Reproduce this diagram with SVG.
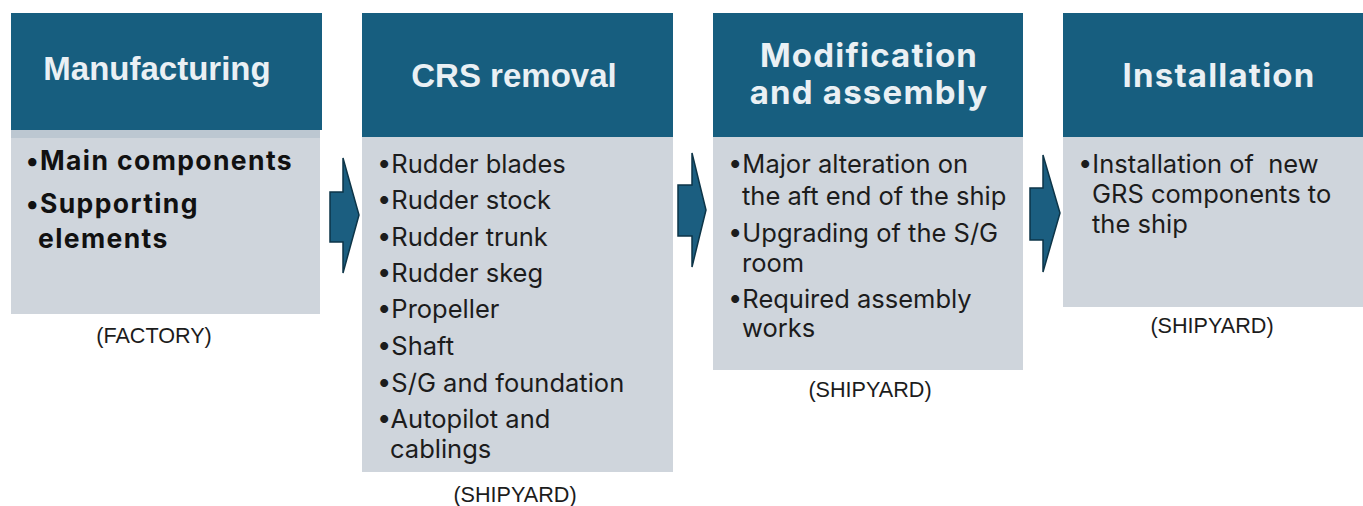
<svg xmlns="http://www.w3.org/2000/svg" width="1363" height="506" viewBox="0 0 1363 506">
  <style>
    .head { fill: #175e7f; }
    .body { fill: #cfd5dc; }
    .title { fill: #eaf0f4; font-family: "Liberation Sans", Arial, sans-serif; font-weight: 700; font-size: 33px; text-anchor: middle; }
    .title2 { fill: #eaf0f4; font-family: Inter, "Liberation Sans", sans-serif; font-weight: 700; font-size: 33px; letter-spacing: 1.2px; text-anchor: middle; }
    .item { fill: #1c1c1c; font-family: Inter, "Liberation Sans", sans-serif; font-size: 25.5px; white-space: pre; }
    .itemb { fill: #111; font-family: Inter, "Liberation Sans", sans-serif; font-size: 26.5px; letter-spacing: 1.4px; font-weight: 700; }
    .place { fill: #1c1c1c; font-family: "Liberation Sans", Arial, sans-serif; font-size: 21.6px; text-anchor: middle; }
    .arrow { fill: #1b5e80; stroke: #0d3548; stroke-width: 1.5; stroke-linejoin: miter; }
  </style>

  <rect width="1363" height="506" fill="#ffffff"/>

  <!-- Stage 1: manufacturing -->
  <g id="manufacturing">
    <rect class="head" x="11" y="13" width="311" height="117"/>
    <rect class="body" x="11" y="130" width="309" height="184"/>
    <rect x="11" y="130" width="309" height="8" fill="#bcc7d1"/>
    <text class="title" x="157" y="80">Manufacturing</text>
    <text class="itemb" x="26" y="170">•Main components</text>
    <text class="itemb" x="26" y="213">•Supporting</text>
    <text class="itemb" x="38" y="248">elements</text>
    <text class="place" x="154" y="343">(FACTORY)</text>
  </g>

  <!-- Stage 2: CRS removal -->
  <g id="crs-removal">
    <rect class="head" x="362" y="13" width="311" height="124"/>
    <rect class="body" x="362" y="137" width="311" height="335"/>
    <text class="title" x="514" y="87">CRS removal</text>
    <text class="item" x="377" y="173">•Rudder blades</text>
    <text class="item" x="377" y="209">•Rudder stock</text>
    <text class="item" x="377" y="246">•Rudder trunk</text>
    <text class="item" x="377" y="282">•Rudder skeg</text>
    <text class="item" x="377" y="318">•Propeller</text>
    <text class="item" x="377" y="355">•Shaft</text>
    <text class="item" x="377" y="392">•S/G and foundation</text>
    <text class="item" x="377" y="428">•Autopilot and</text>
    <text class="item" x="390" y="458">cablings</text>
    <text class="place" x="515" y="502">(SHIPYARD)</text>
  </g>

  <!-- Stage 3: modification and assembly -->
  <g id="modification">
    <rect class="head" x="713" y="13" width="310" height="124"/>
    <rect class="body" x="713" y="137" width="310" height="233"/>
    <text class="title2" x="869" y="67">Modification</text>
    <text class="title2" x="869" y="104">and assembly</text>
    <text class="item" x="728" y="173">•Major alteration on</text>
    <text class="item" x="742" y="205">the aft end of the ship</text>
    <text class="item" x="728" y="242">•Upgrading of the S/G</text>
    <text class="item" x="742" y="272">room</text>
    <text class="item" x="728" y="308">•Required assembly</text>
    <text class="item" x="742" y="337">works</text>
    <text class="place" x="870" y="397">(SHIPYARD)</text>
  </g>

  <!-- Stage 4: installation -->
  <g id="installation">
    <rect class="head" x="1063" y="13" width="300" height="124"/>
    <rect class="body" x="1063" y="137" width="300" height="170"/>
    <text class="title2" x="1219" y="87">Installation</text>
    <text class="item" x="1078" y="173">•Installation of  new</text>
    <text class="item" x="1092" y="203">GRS components to</text>
    <text class="item" x="1092" y="233">the ship</text>
    <text class="place" x="1212" y="333">(SHIPYARD)</text>
  </g>

  <!-- Flow arrows between stages -->
  <g id="connectors">
    <path class="arrow" d="M330,192 H343 V158 L359,215 L343,273 V242 H330 Z"/>
    <path class="arrow" d="M678,185 H692 V153 L706,210 L692,267 V236 H678 Z"/>
    <path class="arrow" d="M1030,188 H1043 V155 L1060,213 L1043,272 V240 H1030 Z"/>
  </g>
</svg>
